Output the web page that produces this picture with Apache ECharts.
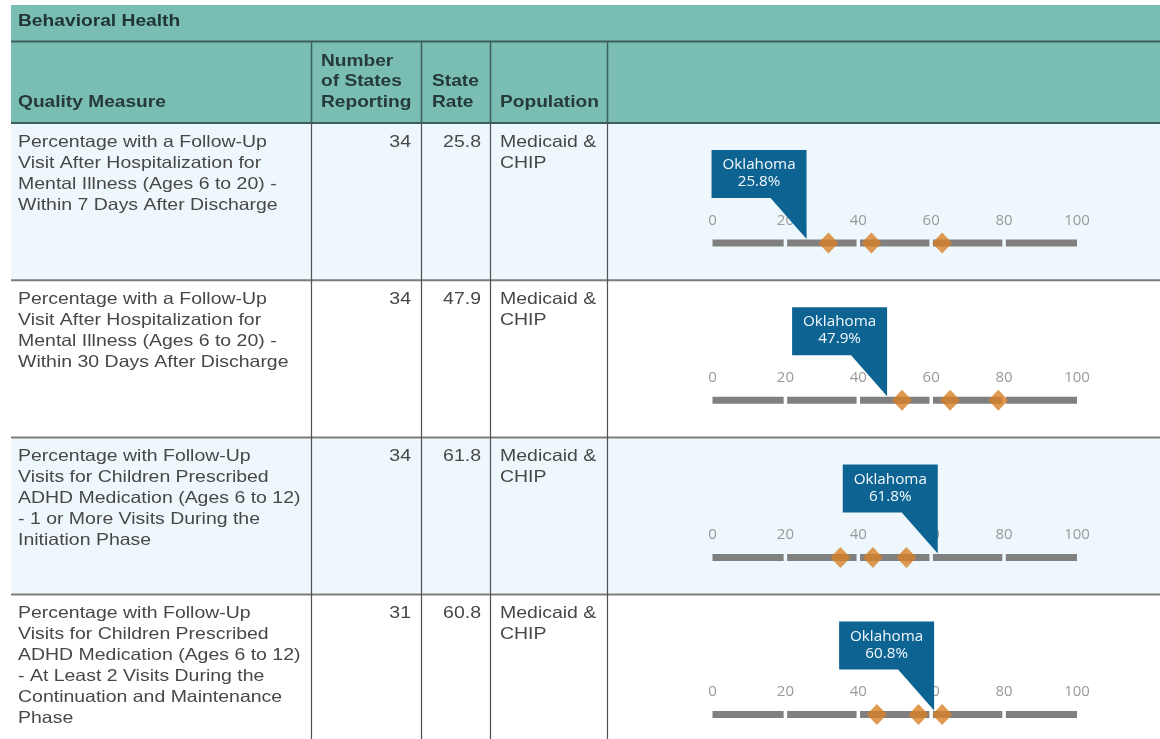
<!DOCTYPE html>
<html><head><meta charset="utf-8">
<script src="https://cdn.jsdelivr.net/npm/echarts/dist/echarts.min.js"></script>
<style>html,body{margin:0;padding:0;background:#fff}#c{width:1160px;height:739px}</style>
</head><body><div id="c"></div>
<script>
// ---------- data ----------
const sectionTitle = 'Behavioral Health';
const columnHeaders = ['Quality Measure', 'Number\nof States\nReporting', 'State\nRate', 'Population'];
const measures = [
  'Percentage with a Follow-Up\nVisit After Hospitalization for\nMental Illness (Ages 6 to 20) -\nWithin 7 Days After Discharge',
  'Percentage with a Follow-Up\nVisit After Hospitalization for\nMental Illness (Ages 6 to 20) -\nWithin 30 Days After Discharge',
  'Percentage with Follow-Up\nVisits for Children Prescribed\nADHD Medication (Ages 6 to 12)\n- 1 or More Visits During the\nInitiation Phase',
  'Percentage with Follow-Up\nVisits for Children Prescribed\nADHD Medication (Ages 6 to 12)\n- At Least 2 Visits During the\nContinuation and Maintenance\nPhase'
];
const statesReporting = [34, 34, 34, 31];
const stateRates = [25.8, 47.9, 61.8, 60.8];
const populations = ['Medicaid &\nCHIP', 'Medicaid &\nCHIP', 'Medicaid &\nCHIP', 'Medicaid &\nCHIP'];
const stateName = 'Oklahoma';
const lowerQuartiles = [31.8, 52.0, 35.1, 45.1];
const medians = [43.6, 65.2, 44.0, 56.5];
const upperQuartiles = [63.0, 78.4, 53.2, 63.0];
const axisTicks = [0, 20, 40, 60, 80, 100];

// ---------- layout ----------
const W = 1160, H = 739;
const tableLeft = 11, titleTop = 5, headerTop = 42, headerBottom = 123, rowH = 157.2;
const colLines = [311.5, 421.5, 490.5, 607.5];
const axisLeft = 712.5, axisRight = 1077;
const TEAL = '#79bdb3', DARK_TEAL = '#3f5f5c', ROW_BLUE = '#eef8fc';
const BODY_FONT = '"Liberation Sans", Arial, sans-serif';
const CHART_FONT = '"Open Sans", "Noto Sans", sans-serif';
const SX = 1.18;
const rowTop = i => headerBottom + i * rowH;

const g = [];
g.push({type:'rect', z:0, shape:{x:tableLeft, y:titleTop, width:W - tableLeft, height:headerTop - titleTop}, style:{fill:TEAL}});
g.push({type:'rect', z:0, shape:{x:tableLeft, y:headerTop, width:W - tableLeft, height:headerBottom - headerTop}, style:{fill:TEAL}});
measures.forEach((m, i) => {
  g.push({type:'rect', z:0, shape:{x:tableLeft, y:rowTop(i), width:W - tableLeft, height:rowH}, style:{fill: i % 2 === 0 ? ROW_BLUE : '#ffffff'}});
});
// horizontal rules
g.push({type:'line', z:1, shape:{x1:tableLeft, y1:41.5, x2:W, y2:41.5}, style:{stroke:DARK_TEAL, lineWidth:2}});
g.push({type:'line', z:1, shape:{x1:tableLeft, y1:headerBottom, x2:W, y2:headerBottom}, style:{stroke:DARK_TEAL, lineWidth:2}});
for (let i = 1; i < measures.length; i++) {
  g.push({type:'line', z:1, shape:{x1:tableLeft, y1:rowTop(i), x2:W, y2:rowTop(i)}, style:{stroke:'#7d7d7d', lineWidth:2}});
}
// vertical rules
colLines.forEach(x => {
  g.push({type:'line', z:1, shape:{x1:x, y1:headerTop, x2:x, y2:headerBottom}, style:{stroke:DARK_TEAL, lineWidth:1.5}});
  g.push({type:'line', z:1, shape:{x1:x, y1:headerBottom, x2:x, y2:H}, style:{stroke:'#505050', lineWidth:1.2}});
});
// title
g.push({type:'text', z:2, x:18, y:22, scaleX:1.2, style:{text:sectionTitle, font:'bold 16px ' + BODY_FONT, fill:'#1f3534', align:'left', verticalAlign:'middle'}});
// header texts
const headerX = [18, 321, 432, 500];
columnHeaders.forEach((t, k) => {
  g.push({type:'text', z:2, x:headerX[k], y:112.25, scaleX:1.16, style:{text:t, font:'bold 16.5px ' + BODY_FONT, fill:'#263a38', align:'left', verticalAlign:'bottom', lineHeight:20.5}});
});
// body texts
measures.forEach((m, i) => {
  const top = rowTop(i) + 8.5;
  const st = {font:'16.5px ' + BODY_FONT, fill:'#474747', verticalAlign:'top', lineHeight:21};
  g.push({type:'text', z:2, x:18, y:top, scaleX:SX, style:Object.assign({text:m, align:'left'}, st)});
  g.push({type:'text', z:2, x:411, y:top, scaleX:SX, style:Object.assign({text:String(statesReporting[i]), align:'right'}, st)});
  g.push({type:'text', z:2, x:481, y:top, scaleX:SX, style:Object.assign({text:stateRates[i].toFixed(1), align:'right'}, st)});
  g.push({type:'text', z:2, x:500, y:top, scaleX:SX, style:Object.assign({text:populations[i], align:'left'}, st)});
});

// ---------- charts ----------
const grids = [], xAxes = [], yAxes = [], series = [];
const segments = axisTicks.slice(0, -1).map((t, k) => [t, axisTicks[k + 1]]);
const aMin = axisTicks[0], aMax = axisTicks[axisTicks.length - 1];
measures.forEach((m, i) => {
  grids.push({left:axisLeft, right:W - axisRight, top:rowTop(i) + 110, height:20});
  xAxes.push({gridIndex:i, type:'value', min:aMin, max:aMax, interval:20, position:'top', z:3,
    axisLine:{show:false}, axisTick:{show:false}, splitLine:{show:false},
    axisLabel:{margin:5, color:'#9a9a9a', fontSize:15, fontFamily:CHART_FONT, showMinLabel:true, showMaxLabel:true}});
  yAxes.push({gridIndex:i, type:'value', min:0, max:1, show:false});
  series.push({type:'custom', xAxisIndex:i, yAxisIndex:i, z:4, silent:true, clip:false,
    data:segments,
    renderItem:(p, api) => {
      const v0 = api.value(0), v1 = api.value(1);
      const s = api.coord([v0, 0.5]), e = api.coord([v1, 0.5]);
      const gap = 1.75;
      const x0 = s[0] + (v0 > aMin ? gap : 0), x1 = e[0] - (v1 < aMax ? gap : 0);
      return {type:'rect', shape:{x:x0, y:s[1] - 3.5, width:x1 - x0, height:7}, style:{fill:'#808080'}};
    }});
  series.push({type:'scatter', xAxisIndex:i, yAxisIndex:i, z:6, silent:true,
    symbol:'diamond', symbolSize:[20, 21], itemStyle:{color:'#d87f26'},
    data:[[lowerQuartiles[i], 0.5], [medians[i], 0.5], [upperQuartiles[i], 0.5]]});
  series.push({type:'custom', xAxisIndex:i, yAxisIndex:i, z:10, silent:true, clip:false,
    data:[[stateRates[i], 0.5]],
    renderItem:(p, api) => {
      const v = api.value(0);
      const c = api.coord([v, 0.5]);
      const tipX = c[0], tipY = c[1] - 4;
      const bb = tipY - 41, bt = bb - 48, w = 95;
      return {type:'group', children:[
        {type:'polygon', shape:{points:[[tipX - w, bt], [tipX, bt], [tipX, tipY], [tipX - 36, bb], [tipX - w, bb]]}, style:{fill:'#0d6391'}},
        {type:'text', x:tipX - w / 2, y:bt + 6.5, scaleX:1.05, style:{text:stateName + '\n' + v.toFixed(1) + '%', fill:'#f2f8fc', font:'14.5px ' + CHART_FONT, align:'center', verticalAlign:'top', lineHeight:17}}
      ]};
    }});
});

const chart = echarts.init(document.getElementById('c'), null, {renderer:'canvas'});
chart.setOption({
  animation:false,
  backgroundColor:'#ffffff',
  graphic:{elements:g},
  grid:grids, xAxis:xAxes, yAxis:yAxes, series:series
});
</script></body></html>
